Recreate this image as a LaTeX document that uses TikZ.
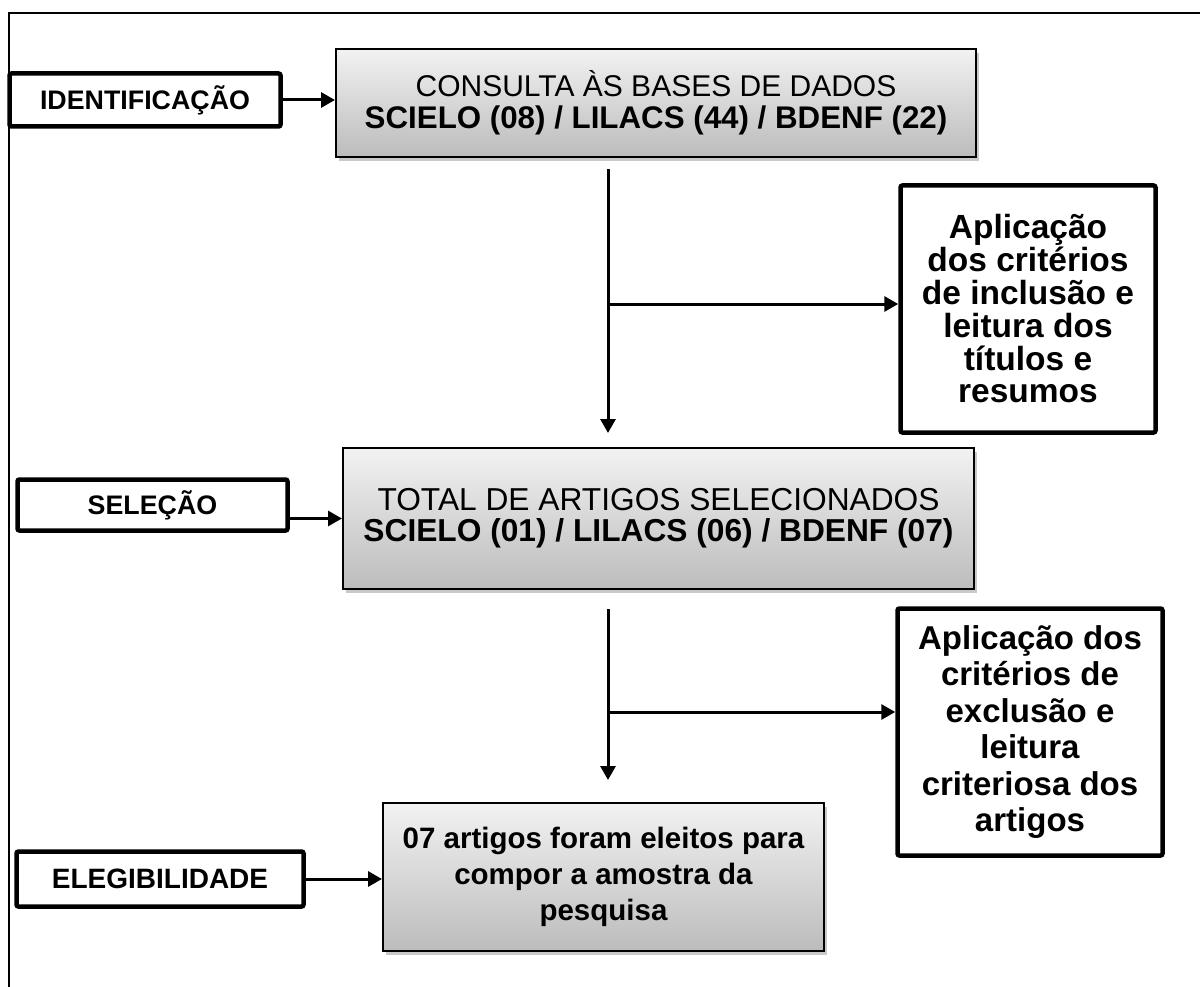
\documentclass[tikz,border=0pt]{standalone}
\usepackage{fontspec}
\setmainfont{Liberation Sans}
\usetikzlibrary{arrows.meta,shadows}
\tikzset{
  sidebox/.style={draw=black, line width=4.5pt, rounded corners=2pt, fill=white,
    inner sep=0pt, align=center, font=\fontsize{26.8}{30}\selectfont\bfseries},
  critbox/.style={draw=black, line width=4.5pt, rounded corners=2pt, fill=white,
    inner sep=0pt, align=center, font=\fontsize{33.5}{32.8}\selectfont\bfseries},
  graybox/.style={draw=black, line width=2pt, inner sep=0pt, align=center,
    top color={rgb,255:red,242;green,242;blue,242},
    bottom color={rgb,255:red,188;green,188;blue,188},
    drop shadow={shadow xshift=3pt, shadow yshift=-4pt, opacity=0.3, fill=black!70},
    font=\fontsize{30}{32}\selectfont},
  arr/.style={line width=3pt, -{Triangle[length=14pt,width=15pt]}},
  frame/.style={line width=2pt}
}
\begin{document}
\begin{tikzpicture}[x=1pt,y=-1pt]
\useasboundingbox (0,0) rectangle (1200,987);
\draw[frame] (9,987) -- (9,13) -- (1200,13);

\node[graybox, minimum width=640pt, minimum height=108pt] (consulta) at (656,103)
  {CONSULTA ÀS BASES DE DADOS\\{\fontsize{31.3}{32}\selectfont\bfseries SCIELO (08) / LILACS (44) / BDENF (22)}};
\node[sidebox, minimum width=271pt, minimum height=53pt] (id) at (145,100) {IDENTIFICAÇÃO};

\node[critbox, minimum width=255pt, minimum height=247pt] (incl) at (1028,309)
  {Aplicação\\dos critérios\\de inclusão e\\leitura dos\\títulos e\\resumos};

\node[graybox, minimum width=631pt, minimum height=141pt,
  font=\fontsize{31.7}{31}\selectfont] (total) at (658.5,518.5)
  {TOTAL DE ARTIGOS SELECIONADOS\\\textbf{SCIELO (01) / LILACS (06) / BDENF (07)}};
\node[sidebox, minimum width=270pt, minimum height=51pt] (sel) at (152.5,505) {SELEÇÃO};

\node[critbox, minimum width=265pt, minimum height=247pt,
  font=\fontsize{33}{36.5}\selectfont\bfseries] (excl) at (1030,732)
  {Aplicação dos\\critérios de\\exclusão e\\leitura\\criteriosa dos\\artigos};

\node[graybox, minimum width=441pt, minimum height=148pt,
  font=\fontsize{29.5}{36}\selectfont\bfseries] (final) at (603.5,877)
  {07 artigos foram eleitos para\\compor a amostra da\\pesquisa};
\node[sidebox, minimum width=287pt, minimum height=55pt,
  font=\fontsize{28}{30}\selectfont\bfseries] (eleg) at (160,879) {ELEGIBILIDADE};

% connectors
\draw[arr] (id.east) -- (consulta.west |- id.east);
\draw[arr] (sel.east |- total.west) -- (total.west);
\draw[arr] (eleg.east) -- (final.west |- eleg.east);

\coordinate (v1s) at (608,169);
\coordinate (v1e) at (608,433);
\coordinate (b1) at (608,304);
\draw[arr] (v1s) -- (v1e);
\draw[arr] (b1) -- (b1 -| incl.west);

\coordinate (v2s) at (608,609);
\coordinate (v2e) at (608,780);
\coordinate (b2) at (608,712);
\draw[arr] (v2s) -- (v2e);
\draw[arr] (b2) -- (b2 -| excl.west);
\end{tikzpicture}
\end{document}
